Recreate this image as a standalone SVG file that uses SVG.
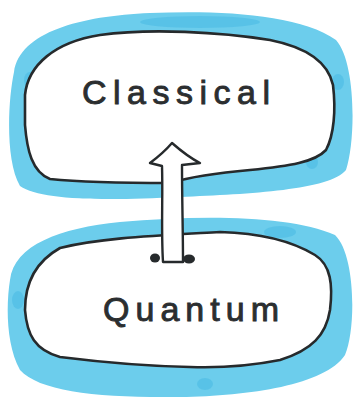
<svg xmlns="http://www.w3.org/2000/svg" width="355" height="398" viewBox="0 0 355 398">
<style>
.halo{fill:#6ccdec;}
.spot{fill:#40b6e2;opacity:0.45;}
.blob{fill:#ffffff;stroke:#262a2c;stroke-width:2.6;stroke-linejoin:round;}
.lbl{font-family:"Liberation Sans","DejaVu Sans",sans-serif;font-size:34px;fill:#2b2e30;stroke:#2b2e30;stroke-width:0.9;}
.arrow{fill:#ffffff;stroke:#262a2c;stroke-width:2.4;stroke-linejoin:round;}
</style>
<rect width="355" height="398" fill="#ffffff"/>
<g id="classical">
<path class="halo" d="M 14 72 C 20 32 80 16 150 13 C 220 10 300 14 336 40 C 356 62 356 140 346 170 C 330 190 250 194 180 197 C 100 201 40 200 20 186 C 5 160 8 100 14 72 Z"/>
<ellipse class="spot" cx="30" cy="80" rx="6" ry="8"/>
<ellipse class="spot" cx="338" cy="82" rx="6" ry="8"/>
<ellipse class="spot" cx="312" cy="162" rx="6" ry="7"/>
<ellipse class="spot" cx="200" cy="22" rx="60" ry="6"/>
<path class="blob" d="M 25 95 C 28 65 55 42 100 35 C 150 28 220 32 270 40 C 305 47 328 62 333 85 C 336 110 334 135 326 150 C 315 162 290 166 250 170 C 215 173 190 177 170 183 C 130 183 80 182 50 179 C 32 172 27 150 25 125 Z"/>
<text class="lbl" x="82" y="104" textLength="188" lengthAdjust="spacing">Classical</text>
</g>
<g id="quantum">
<path class="halo" d="M 10 280 C 14 245 60 228 120 222 C 200 215 290 215 335 235 C 356 255 356 330 345 355 C 325 385 250 396 180 397 C 100 398 40 392 20 370 C 6 345 6 305 10 280 Z"/>
<ellipse class="spot" cx="18" cy="300" rx="6" ry="9"/>
<ellipse class="spot" cx="280" cy="232" rx="16" ry="6"/>
<ellipse class="spot" cx="205" cy="384" rx="8" ry="6"/>
<path class="blob" d="M 60 248 C 100 238 150 236 220 232 C 260 233 290 240 315 255 C 331 265 333 285 330 310 C 326 335 312 350 280 360 C 250 366 220 368 190 367 C 140 366 100 362 60 357 C 35 350 27 335 25 310 C 25 285 35 262 60 248 Z"/>
<text class="lbl" x="103" y="321" textLength="176" lengthAdjust="spacing">Quantum</text>
</g>
<g id="connectors">
<path class="arrow" d="M 163 262 C 161 230 163 195 162 166 L 150 163 C 158 157 166 150 172 143 C 180 150 190 158 200 163 L 182 165 C 182 200 183 230 183 262 Z"/>
<ellipse cx="155" cy="258" rx="5" ry="4.5" fill="#262a2c"/>
<ellipse cx="189" cy="259" rx="6" ry="4.5" fill="#262a2c"/>
</g>
</svg>
